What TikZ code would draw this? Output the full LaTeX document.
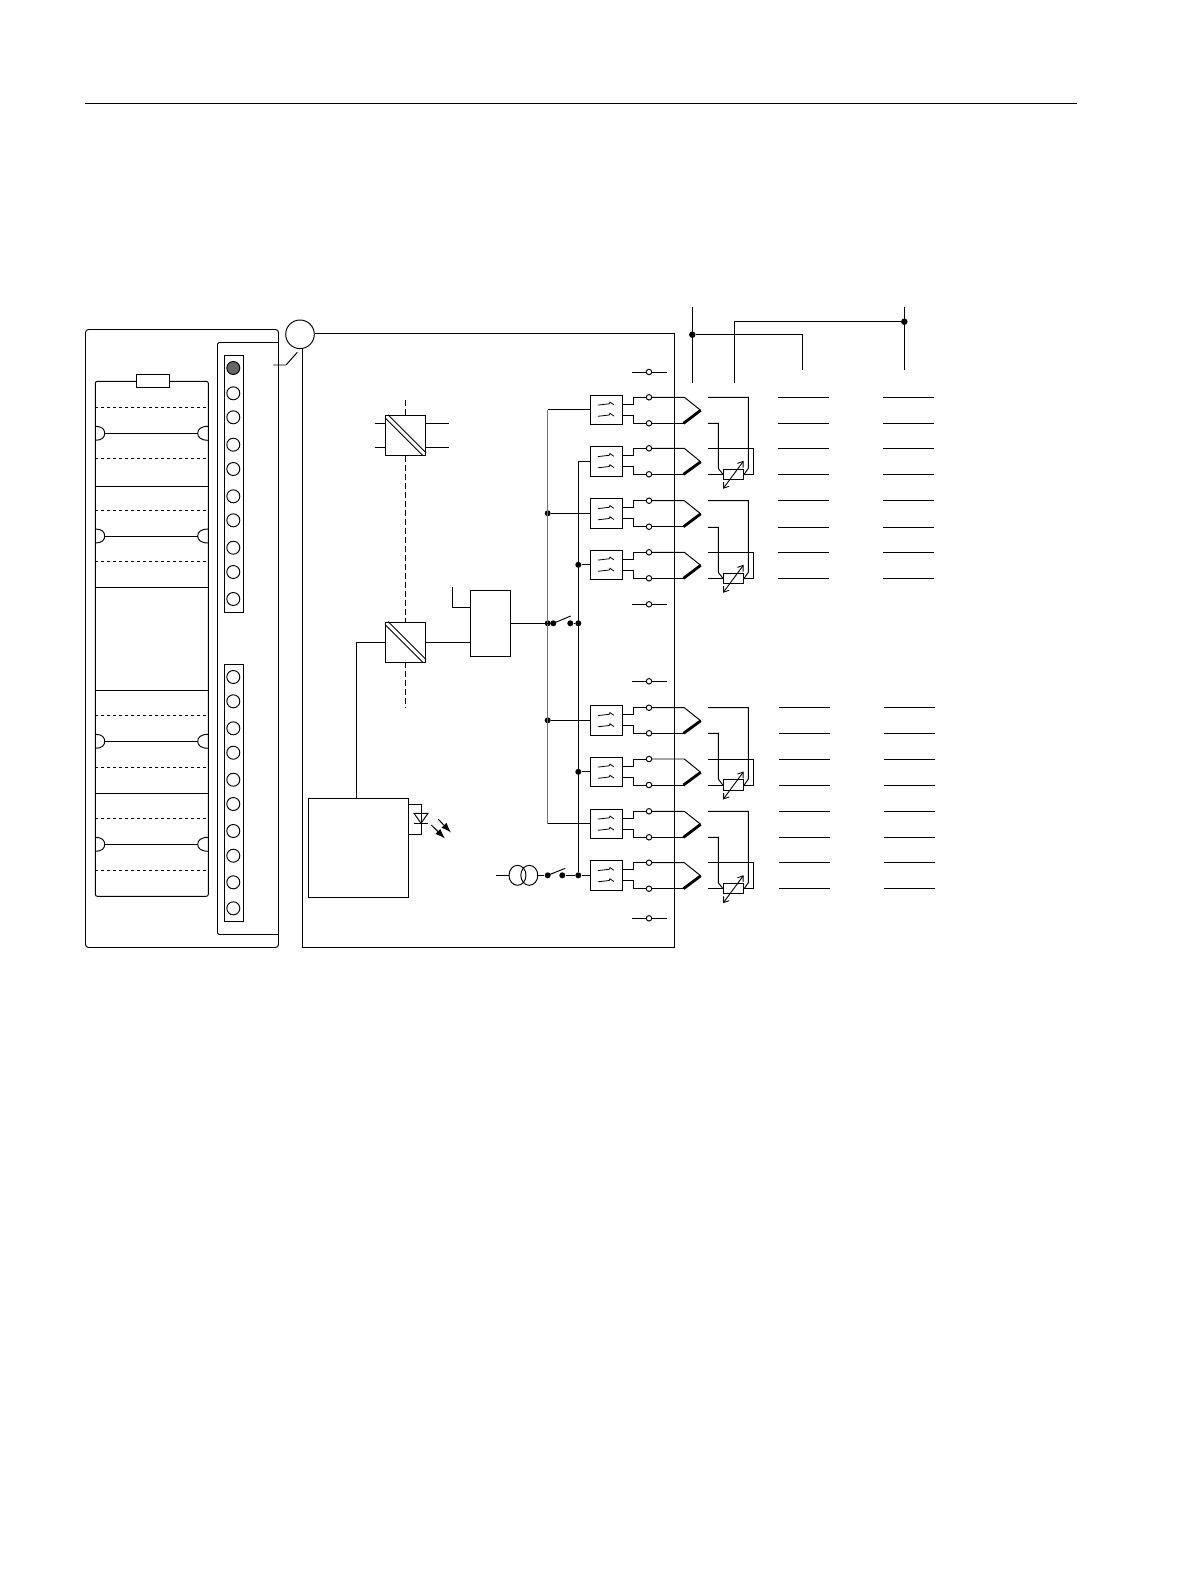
\documentclass[tikz,border=0pt]{standalone}
\usetikzlibrary{arrows.meta,shapes.geometric}
\tikzset{
	relaybox/.style={draw, rectangle, inner sep=0, minimum width=32.4pt, minimum height=29.5pt},
	convbox/.style={draw, rectangle, inner sep=0, minimum size=40pt},
	fuelbox/.style={draw, rectangle, inner sep=0, minimum width=33.4pt, minimum height=13pt},
	rtdbox/.style={draw, rectangle, inner sep=0, minimum width=20.4pt, minimum height=10.3pt},
	lamp/.style={draw, circle, inner sep=0, minimum size=13pt},
	terminal/.style={draw, circle, inner sep=0, minimum size=5.5pt},
	junction/.style={fill=black, circle, inner sep=0, minimum size=6pt},
	coil/.style={draw, ellipse, inner sep=0, minimum width=17pt, minimum height=20pt},
	busline/.style={line width=1.3pt, color=black!55},
	guide/.style={dash pattern=on 6pt off 3pt}
}
\begin{document}
\begin{tikzpicture}[x=1pt, y=-1pt, line width=.95pt, line join=miter]
	\useasboundingbox (0,0) rectangle (1191,1587);
	\coordinate (rulea) at (85,103);
	\coordinate (ruleb) at (1077,103);
	\draw (rulea) -- (ruleb);

	\draw[rounded corners=3pt] (85.5,329.5) rectangle (278.5,947.5);
	\draw[rounded corners=1.5pt] (278.5,342.5) -- (217.5,342.5) -- (217.5,934.5) -- (278.5,934.5);
	\draw (224.3,355) rectangle (243.7,612);
	\draw (224.3,664.3) rectangle (243.7,921.7);
	\node[lamp, fill=black!60] (lamp1) at (233.3,368) {};
	\foreach \i/\y in {2/393.3, 3/417.3, 4/444.7, 5/469, 6/496.3, 7/520.3, 8/547.7, 9/572, 10/599,
		11/677, 12/701.3, 13/728.3, 14/752.7, 15/779.7, 16/804, 17/831, 18/855.7, 19/882.3, 20/908.3}
	{
		\node[lamp] (lamp\i) at (233.3,\y) {};
	}

	\draw[rounded corners=2pt] (95.3,381.3) rectangle (208.3,896.3);
	\node[fuelbox, fill=white] (fuse) at (153,380.8) {};
	\foreach \y in {486.3, 587.3, 690.3, 793.3}
	{
		\draw (95.3,\y) -- (208.3,\y);
	}
	\foreach \y in {407.3, 458.3, 510.3, 561.3, 715.3, 767.3, 818.3, 870.3}
	{
		\draw[dashed] (95.3,\y) -- (208.3,\y);
	}
	\foreach \y in {433.3, 536, 741.3, 844.3}
	{
		\draw (95.3,\y-7) .. controls (102,\y-7) and (104.7,\y-4) .. (104.7,\y) .. controls (104.7,\y+4) and (102,\y+7) .. (95.3,\y+7);
		\draw (208.3,\y-7) .. controls (201,\y-7) and (197.7,\y-4) .. (197.7,\y) .. controls (197.7,\y+4) and (201,\y+7) .. (208.3,\y+7);
		\draw (104.7,\y) -- (197.7,\y);
	}

	\node[draw, circle, inner sep=0, minimum size=28.6pt] (plug) at (300,334.3) {};
	\coordinate (boxne) at (674.3,333.3);
	\coordinate (boxse) at (674.3,947);
	\coordinate (boxsw) at (302.3,947);
	\draw (plug.east |- boxne) -- (boxne) -- (boxse) -- (boxsw) -- (boxsw |- plug.south);
	\draw (273.3,365) -- (286,365) -- (297.3,352.3);

	\node[convbox] (conva) at (405.5,435.3) {};
	\node[convbox] (convb) at (405.5,642) {};
	\foreach \c in {conva, convb}
	{
		\draw ([yshift=-3pt]\c.north west) -- ([xshift=-3pt]\c.south east);
		\draw ([xshift=3pt]\c.north west) -- ([yshift=3pt]\c.south east);
	}
	\coordinate (guidea) at (405.5,400);
	\coordinate (guideb) at (405.5,708);
	\draw[guide] (guidea) -- (conva.north);
	\draw[guide] (conva.south) -- (convb.north);
	\draw[guide] (convb.south) -- (guideb);
	\draw (374.7,423.3) -- (385.5,423.3);
	\draw (374.7,447.3) -- (385.5,447.3);
	\draw (425.5,423.3) -- (449.3,423.3);
	\draw (425.5,447.3) -- (449.3,447.3);

	\node[draw, rectangle, inner sep=0, minimum width=40.4pt, minimum height=66.4pt] (block) at (490.5,623.5) {};
	\draw (452.3,587) -- (452.3,607.3) -- (block.west |- 0,607.3);
	\draw (convb.east) -- (block.west |- convb.east);

	\node[draw, rectangle, inner sep=0, minimum width=100pt, minimum height=99pt] (logic) at (358.3,847.8) {};
	\draw (convb.west) -| (logic.north -| 356.3,0);
	\draw (408.3,804.3) -- (421.7,804.3) -- (421.7,834.3) -- (408.3,834.3);
	\draw (414,813.3) -- (428,813.3) -- (421,823.3) -- cycle;
	\draw (414,823.3) -- (428,823.3);
	\draw[-{Latex[length=10pt,width=7pt]}] (438.3,819.3) -- (451,832.5);
	\draw[-{Latex[length=10pt,width=7pt]}] (431.3,825) -- (445,838.5);

	\foreach \i/\cy/\ta/\tb in {1/409.8/397.3/423.3, 2/461.3/448.3/474.3, 3/513.3/500.7/526.7, 4/564.8/552.3/578.3,
		5/720.3/707.7/733.3, 6/771.8/759/785, 7/823.8/811.3/837.3, 8/875.3/862.7/888.7}
	{
		\node[relaybox] (relay\i) at (606.5,\cy) {};
		\draw[line width=.8pt] (597.8,\cy-4.7) -- (609.2,\cy-6) -- (610,\cy-7.7) -- (613.8,\cy-5);
		\draw[line width=.8pt] (597.8,\cy+6.5) -- (609.2,\cy+5.2) -- (610,\cy+3.5) -- (613.8,\cy+6.2);
		\node[terminal] (ta\i) at (649,\ta) {};
		\node[terminal] (tb\i) at (649,\tb) {};
		\coordinate (tip\i) at (700.7,\cy+.5);
		\draw ([yshift=5.5pt]relay\i.east) -| (633.3,\ta) -- (ta\i);
		\draw ([yshift=-5.5pt]relay\i.east) -| (633.3,\tb) -- (tb\i);
		\draw (ta\i) -- (684.3,\ta) -- (tip\i);
		\draw (tb\i) -- (684.3,\tb);
		\draw[line width=2.8pt] (683.5,\tb) -- (tip\i);
	}
	\foreach \i/\y in {a/372, b/604.3, c/681.3, d/918.3}
	{
		\node[terminal] (spare\i) at (649,\y) {};
		\draw (632.3,\y) -- (spare\i) -- (667.3,\y);
	}

	\foreach \i/\ya/\yb/\yc/\yd in {1/397.3/423.3/448.3/474.3, 2/500.7/527.3/552.3/578.3, 3/707.7/733.3/759/785, 4/811.3/837.3/862.7/888.7}
	{
		\node[rtdbox, fill=white] (rtd\i) at (733.5,\yd) {};
		\draw (708,\ya) -- (748.3,\ya) -- (748.3,\yd-6) -- (rtd\i.east);
		\draw (708,\yb) -- (718.3,\yb) -- (718.3,\yd-6) -- (rtd\i.west);
		\draw (708,\yc) -- (753.7,\yc) -- (753.7,\yd) -- (rtd\i.east);
		\draw (708,\yd) -- (rtd\i.west);
		\draw[{Straight Barb[length=5pt,width=7pt]}-{Straight Barb[length=5pt,width=7pt]}, line width=.9pt] (723,\yd+14.5) -- (743.7,\yd-13.5);
	}
	\foreach \y in {397.3, 423.3, 448.3, 474.3, 500.7, 527.3, 552.3, 578.3}
	{
		\draw (777.7,\y) -- (828.7,\y);
		\draw (883,\y) -- (934,\y);
	}
	\foreach \y in {707.7, 733.3, 759, 785, 811.3, 837.3, 862.7, 888.7}
	{
		\draw (779,\y) -- (830,\y);
		\draw (884.3,\y) -- (935.3,\y);
	}

	\node[junction] (busa) at (547.7,623.3) {};
	\node[junction] (swa) at (553.3,623.3) {};
	\node[junction] (swb) at (570.3,623.3) {};
	\node[junction] (busb) at (578.3,623.3) {};
	\node[junction] (feed3) at (547.7,513.3) {};
	\node[junction] (feed4) at (578.3,564.8) {};
	\node[junction] (feed5) at (547.7,720.3) {};
	\node[junction] (feed6) at (578.3,771.8) {};
	\node[junction] (feed8) at (578.3,875.3) {};
	\coordinate (busatop) at (547.7,409.8);
	\coordinate (busaend) at (547.7,823.8);
	\coordinate (busbtop) at (578.3,461.3);
	\draw[busline] (busatop) -- (busaend);
	\draw (busatop) -- (relay1.west);
	\draw (busaend) -- (relay7.west);
	\draw (busbtop) -- (relay2.west);
	\draw (busbtop) -- (feed8);
	\draw (feed3) -- (relay3.west);
	\draw (feed4) -- (relay4.west);
	\draw (feed5) -- (relay5.west);
	\draw (feed6) -- (relay6.west);
	\draw (block.east |- busa) -- (swa);
	\draw (swa.center) -- (570.7,616);
	\draw (swb) -- (busb);

	\node[coil] (tra) at (517.5,875.3) {};
	\node[coil] (trb) at (529.3,875.3) {};
	\node[junction] (swc) at (547.7,875.3) {};
	\node[junction] (swd) at (562.3,875.3) {};
	\draw (496.3,875.3) -- (tra.west);
	\draw (trb.east) -- (swc);
	\draw (swc.center) -- (565.3,868.3);
	\draw (swd) -- (feed8) -- (relay8.west);

	\node[junction, minimum size=6.5pt] (rail1) at (692.3,334.7) {};
	\node[junction, minimum size=6.5pt] (rail2) at (904.3,321.7) {};
	\draw (692.3,306.7) -- (692.3,383.3);
	\draw (904.3,306.7) -- (904.3,370);
	\draw (rail1) -- (802.3,334.7) -- (802.3,370);
	\draw (rail2) -- (734.3,321.7) -- (734.3,383.3);
\end{tikzpicture}
\end{document}
